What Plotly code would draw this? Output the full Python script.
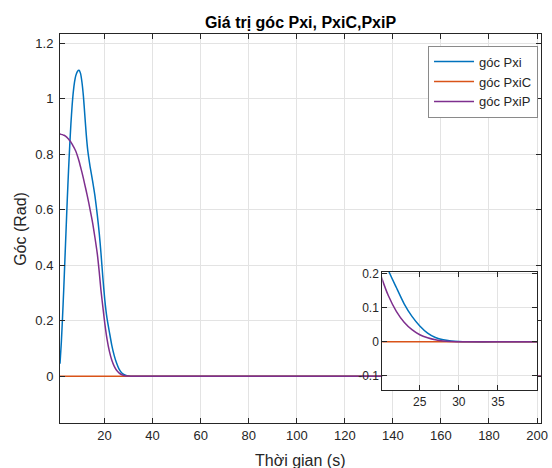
import plotly.graph_objects as go

# ---- data ----
t = [1.46, 2.0, 2.5, 3.0, 3.5, 4.0, 4.5, 5.0, 5.5, 6.0, 6.5, 7.0, 7.5, 8.0, 8.7, 9.4,
     10.0, 10.6, 11.2, 11.8, 12.4, 13.0, 14.0, 15.0, 16.0, 17.0, 17.8, 18.5, 19.3,
     20.1, 21.0, 22.0, 23.0, 24.0, 25.0, 26.0, 27.0, 28.0, 29.0, 30.0, 31.0, 35.0,
     40.0, 60.0, 100.0, 150.0, 201.65]

goc_pxi = [0.045, 0.12, 0.21, 0.31, 0.42, 0.53, 0.64, 0.74, 0.83, 0.91, 0.975, 1.025,
           1.06, 1.083, 1.099, 1.103, 1.092, 1.06, 1.01, 0.94, 0.87, 0.815, 0.755,
           0.705, 0.65, 0.58, 0.515, 0.445, 0.355, 0.275, 0.21, 0.16, 0.112, 0.075, 0.047,
           0.026, 0.013, 0.006, 0.0025, 0.0008, 0.0, 0.0, 0.0, 0.0, 0.0, 0.0, 0.0]

goc_pxic = [0.0] * len(t)

goc_pxip = [0.873, 0.872, 0.871, 0.869, 0.867, 0.864, 0.860, 0.855, 0.850, 0.844, 0.837,
            0.829, 0.821, 0.812, 0.795, 0.775, 0.755, 0.735, 0.713, 0.69, 0.667, 0.643,
            0.60, 0.555, 0.50, 0.44, 0.375, 0.31, 0.25, 0.19, 0.135, 0.09, 0.058, 0.036,
            0.021, 0.012, 0.006, 0.0025, 0.0008, 0.0002, 0.0, 0.0, 0.0, 0.0, 0.0, 0.0, 0.0]

series_names = ["góc Pxi", "góc PxiC", "góc PxiP"]
series_colors = ["#0072BD", "#D95319", "#7E2F8E"]

main_xticks = [20, 40, 60, 80, 100, 120, 140, 160, 180, 200]
main_yticks = [0, 0.2, 0.4, 0.6, 0.8, 1.0, 1.2]
main_yticklabels = ["0", "0.2", "0.4", "0.6", "0.8", "1", "1.2"]
inset_xticks = [25, 30, 35]
inset_yticks = [-0.1, 0, 0.1, 0.2]
inset_yticklabels = ["-0.1", "0", "0.1", "0.2"]

title_text = "Giá trị góc Pxi, PxiC,PxiP"
xlabel_text = "Thời gian (s)"
ylabel_text = "Góc (Rad)"

# ---- figure ----
FONT = "Liberation Sans, Arial, sans-serif"
TXT = "#262626"
GRID = "#e3e3e3"

fig = go.Figure()
all_series = [goc_pxi, goc_pxic, goc_pxip]
for name, col, ys in zip(series_names, series_colors, all_series):
    fig.add_trace(go.Scatter(x=t, y=ys, mode="lines", name=name,
                             line=dict(color=col, width=1.5, shape="spline", smoothing=0.6),
                             xaxis="x", yaxis="y"))
for name, col, ys in zip(series_names, series_colors, all_series):
    fig.add_trace(go.Scatter(x=t, y=ys, mode="lines", name=name, showlegend=False,
                             line=dict(color=col, width=1.5, shape="spline", smoothing=0.6),
                             xaxis="x2", yaxis="y2"))

axis_common = dict(showline=True, linecolor=TXT, linewidth=1, mirror="ticks",
                   ticks="inside", ticklen=5, tickcolor=TXT, showgrid=True,
                   gridcolor=GRID, gridwidth=1, zeroline=False, automargin=False,
                   tickfont=dict(family=FONT, size=13, color=TXT))
inset_font = dict(family=FONT, size=12, color=TXT)

fig.update_layout(
    width=552, height=468, autosize=False,
    margin=dict(l=60, r=11, t=34, b=45, autoexpand=False),
    paper_bgcolor="white", plot_bgcolor="white",
    font=dict(family=FONT, color=TXT),
    xaxis=dict(domain=[0, 1], range=[1.46, 201.65], tickvals=main_xticks,
               anchor="y", **axis_common),
    yaxis=dict(domain=[0, 1], range=[-0.169, 1.234], tickvals=main_yticks,
               ticktext=main_yticklabels, anchor="x", ticklabelstandoff=3,
               **axis_common),
    xaxis2=dict(domain=[0.670, 0.9917], range=[20.2, 40], tickvals=inset_xticks,
                anchor="y2", **{**axis_common, "tickfont": inset_font}),
    yaxis2=dict(domain=[0.0842, 0.3888], range=[-0.1425, 0.2065], tickvals=inset_yticks,
                ticktext=inset_yticklabels, anchor="x2",
                **{**axis_common, "tickfont": inset_font}),
    showlegend=True,
    legend=dict(x=0.9938, xanchor="right", y=0.97, yanchor="top",
                bgcolor="white", bordercolor="#8a8a8a", borderwidth=1,
                itemwidth=40,
                font=dict(family=FONT, size=13, color=TXT), tracegroupgap=0),
    title=dict(text="<b>" + title_text + "</b>", x=0.5, xref="paper",
               y=1 - 22 / 468, yref="container", yanchor="middle", xanchor="center",
               font=dict(family=FONT, size=16, color="black")),
    annotations=[
        dict(text=xlabel_text, x=0.5, xref="paper", y=-0.096, yref="paper",
             showarrow=False, xanchor="center", yanchor="middle",
             font=dict(family=FONT, size=16, color=TXT)),
        dict(text=ylabel_text, x=-0.0824, xref="paper", y=0.5, yref="paper",
             showarrow=False, xanchor="center", yanchor="middle", textangle=-90,
             font=dict(family=FONT, size=16, color=TXT)),
    ],
)

fig.write_html("out.html",
               config={"displayModeBar": False, "responsive": False},
               post_script="document.body.style.margin='0';document.body.style.overflow='hidden';")
